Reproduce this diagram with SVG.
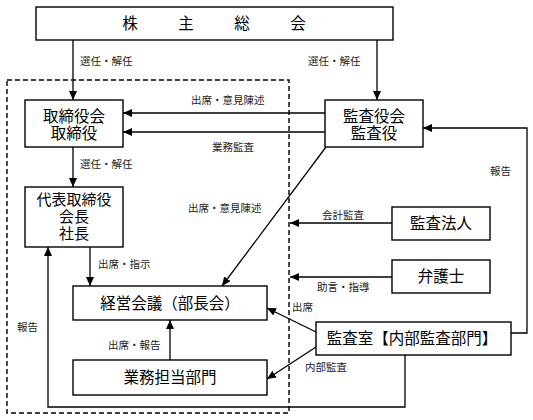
<svg xmlns="http://www.w3.org/2000/svg" width="533" height="420" viewBox="0 0 533 420">
<defs>
<marker id="ah" markerUnits="userSpaceOnUse" markerWidth="10" markerHeight="8" refX="9" refY="4" orient="auto">
<path d="M0,0 L9,4 L0,8 z" fill="#000"/>
</marker>
<style>
.box{fill:#fff;stroke:#000;stroke-width:1.4}
.big{font-family:"Liberation Serif","Noto Sans CJK JP",serif;font-size:15.5px;fill:#000;text-anchor:middle}
.sm{font-family:"Liberation Serif","Noto Sans CJK JP",serif;font-size:10.5px;fill:#222}
.ln{fill:none;stroke:#000;stroke-width:1.3}
.ar{marker-end:url(#ah)}
</style>
</defs>
<rect width="533" height="420" fill="#fff"/>
<rect x="7" y="80" width="282" height="333" fill="none" stroke="#000" stroke-width="1.4" stroke-dasharray="5,3"/>
<g id="connectors">
<path class="ln ar" d="M73,40 V100"/>
<path class="ln ar" d="M377,40 V100"/>
<path class="ln ar" d="M325,113 H123"/>
<path class="ln ar" d="M325,132 H123"/>
<path class="ln ar" d="M73,147 V187"/>
<path class="ln ar" d="M90,247 V286"/>
<path class="ln ar" d="M326,147 L222,286"/>
<path class="ln ar" d="M392,223 H290"/>
<path class="ln ar" d="M392,277 H290"/>
<path class="ln ar" d="M316,332 L267,308"/>
<path class="ln ar" d="M316,347 L267,379"/>
<path class="ln ar" d="M170,360 V320"/>
<path class="ln ar" d="M405,355 V407 H48 V247"/>
<path class="ln ar" d="M511,333 H527 V128 H423"/>
<text class="sm" x="80" y="65">選任・解任</text>
<text class="sm" x="308" y="65">選任・解任</text>
<text class="sm" x="191" y="104">出席・意見陳述</text>
<text class="sm" x="212" y="151">業務監査</text>
<text class="sm" x="80" y="168">選任・解任</text>
<text class="sm" x="188" y="212">出席・意見陳述</text>
<text class="sm" x="322" y="219">会計監査</text>
<text class="sm" x="490" y="175">報告</text>
<text class="sm" x="98" y="268">出席・指示</text>
<text class="sm" x="317" y="291">助言・指導</text>
<text class="sm" x="292" y="311">出席</text>
<text class="sm" x="17" y="331">報告</text>
<text class="sm" x="108" y="349">出席・報告</text>
<text class="sm" x="305" y="371">内部監査</text>
</g>
<g id="kabunushi">
<rect class="box" x="36" y="7" width="357" height="33"/>
<text class="big" x="130" y="29">株</text>
<text class="big" x="186" y="29">主</text>
<text class="big" x="242" y="29">総</text>
<text class="big" x="298" y="29">会</text>
</g>
<g id="torishimariyakukai">
<rect class="box" x="25" y="100" width="98" height="47"/>
<text class="big" x="74" y="122">取締役会</text>
<text class="big" x="74" y="139">取締役</text>
</g>
<g id="kansayakukai">
<rect class="box" x="325" y="100" width="98" height="47"/>
<text class="big" x="374" y="122">監査役会</text>
<text class="big" x="374" y="139">監査役</text>
</g>
<g id="daihyo">
<rect class="box" x="25" y="187" width="98" height="60"/>
<text class="big" x="74" y="205" style="font-size:15px">代表取締役</text>
<text class="big" x="74" y="222" style="font-size:15px">会長</text>
<text class="big" x="74" y="239" style="font-size:15px">社長</text>
</g>
<g id="kansahojin">
<rect class="box" x="392" y="207" width="98" height="33"/>
<text class="big" x="441" y="229">監査法人</text>
</g>
<g id="bengoshi">
<rect class="box" x="392" y="260" width="98" height="33"/>
<text class="big" x="441" y="282">弁護士</text>
</g>
<g id="keieikaigi">
<rect class="box" x="73" y="286" width="194" height="34"/>
<text class="big" x="170" y="309">経営会議（部長会）</text>
</g>
<g id="kansashitsu">
<rect class="box" x="316" y="322" width="195" height="33"/>
<text class="big" x="412" y="344">監査室【内部監査部門】</text>
</g>
<g id="gyomu">
<rect class="box" x="73" y="360" width="194" height="35"/>
<text class="big" x="170" y="383">業務担当部門</text>
</g>
</svg>
